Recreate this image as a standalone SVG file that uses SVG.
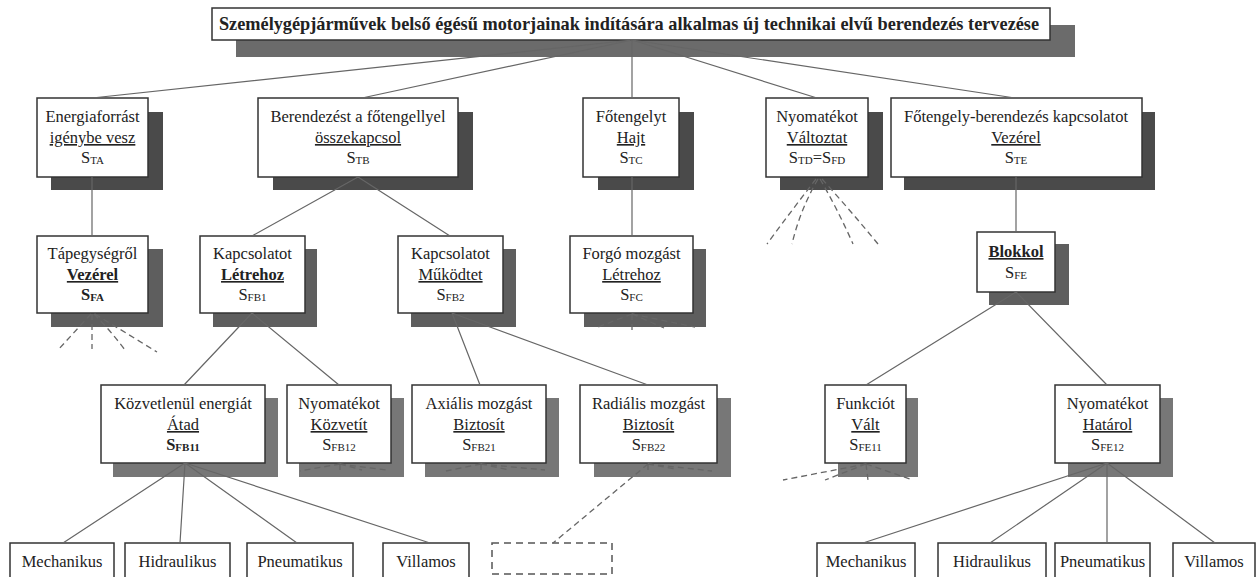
<svg xmlns="http://www.w3.org/2000/svg" width="1260" height="577" viewBox="0 0 1260 577" font-family="'Liberation Serif', 'DejaVu Serif', serif">
<style>
text{font-family:'Liberation Serif','DejaVu Serif',serif;font-size:16.5px;fill:#222;text-anchor:middle}
.t{font-weight:bold;font-size:18.3px}
.u{text-decoration:underline}
.b{font-weight:bold}
.sub{font-size:11px}
.box{fill:#fff;stroke:#333;stroke-width:1.5}
.s0{fill:#6b6b6b}
.s1{fill:#4a4a4a}
.s2{fill:#5e5e5e}
.s3{fill:#777}
.ln{stroke:#666;stroke-width:1.2;fill:none}
.dl{stroke:#666;stroke-width:1.3;fill:none;stroke-dasharray:6 4}
.dbox{fill:#fff;stroke:#555;stroke-width:1.5;stroke-dasharray:7 5}
</style>
<rect width="1260" height="577" fill="#fff"/>

<g id="title">
<rect class="s0" x="236" y="25" width="839" height="32"/>
<rect class="box" x="212" y="8" width="838" height="32"/>
<text class="t" x="629" y="30">Személygépjárművek belső égésű motorjainak indítására alkalmas új technikai elvű berendezés tervezése</text>
</g>

<g id="STA">
<rect class="s1" x="51" y="112" width="112" height="78"/>
<rect class="box" x="37" y="98" width="111" height="79"/>
<text x="92.5" y="122">Energiaforrást</text>
<text class="u" x="92.5" y="143">igénybe vesz</text>
<text x="92.5" y="163">S<tspan class="sub" dy="1">TA</tspan></text>
</g>
<g id="STB">
<rect class="s1" x="273" y="112" width="200" height="78"/>
<rect class="box" x="258" y="98" width="200" height="79"/>
<text x="358" y="122">Berendezést a főtengellyel</text>
<text class="u" x="358" y="143">összekapcsol</text>
<text x="358" y="163">S<tspan class="sub" dy="1">TB</tspan></text>
</g>
<g id="STC">
<rect class="s1" x="598" y="112" width="96" height="78"/>
<rect class="box" x="583" y="98" width="96" height="79"/>
<text x="631" y="122">Főtengelyt</text>
<text class="u" x="631" y="143">Hajt</text>
<text x="631" y="163">S<tspan class="sub" dy="1">TC</tspan></text>
</g>
<g id="STD">
<rect class="s1" x="780" y="112" width="103" height="78"/>
<rect class="box" x="766" y="98" width="102" height="79"/>
<text x="817" y="122">Nyomatékot</text>
<text class="u" x="817" y="143">Változtat</text>
<text x="817" y="163">S<tspan class="sub" dy="1">TD</tspan><tspan dy="-1">=S</tspan><tspan class="sub" dy="1">FD</tspan></text>
</g>
<g id="STE">
<rect class="s1" x="904" y="112" width="251" height="78"/>
<rect class="box" x="891" y="98" width="251" height="79"/>
<text x="1016" y="122">Főtengely-berendezés kapcsolatot</text>
<text class="u" x="1016" y="143">Vezérel</text>
<text x="1016" y="163">S<tspan class="sub" dy="1">TE</tspan></text>
</g>

<g id="SFA">
<rect class="s2" x="51" y="249" width="112" height="78"/>
<rect class="box" x="37" y="236" width="111" height="77"/>
<text x="92.5" y="259">Tápegységről</text>
<text class="u b" x="92.5" y="280">Vezérel</text>
<text class="b" x="92.5" y="300">S<tspan class="sub" dy="1">FA</tspan></text>
</g>
<g id="SFB1">
<rect class="s2" x="213" y="249" width="104" height="78"/>
<rect class="box" x="200" y="236" width="105" height="77"/>
<text x="252.5" y="259">Kapcsolatot</text>
<text class="u b" x="252.5" y="280">Létrehoz</text>
<text x="252.5" y="300">S<tspan class="sub" dy="1">FB1</tspan></text>
</g>
<g id="SFB2">
<rect class="s2" x="411" y="249" width="105" height="78"/>
<rect class="box" x="398" y="236" width="105" height="77"/>
<text x="450.5" y="259">Kapcsolatot</text>
<text class="u" x="450.5" y="280">Működtet</text>
<text x="450.5" y="300">S<tspan class="sub" dy="1">FB2</tspan></text>
</g>
<g id="SFC">
<rect class="s2" x="584" y="249" width="122" height="78"/>
<rect class="box" x="570" y="236" width="123" height="77"/>
<text x="631.5" y="259">Forgó mozgást</text>
<text class="u" x="631.5" y="280">Létrehoz</text>
<text x="631.5" y="300">S<tspan class="sub" dy="1">FC</tspan></text>
</g>
<g id="SFE">
<rect class="s2" x="989" y="244" width="80" height="61"/>
<rect class="box" x="977" y="232" width="78" height="60"/>
<text class="u b" x="1016" y="257">Blokkol</text>
<text x="1016" y="278">S<tspan class="sub" dy="1">FE</tspan></text>
</g>

<g id="SFB11">
<rect class="s3" x="113" y="398" width="165" height="79"/>
<rect class="box" x="101" y="385" width="164" height="78"/>
<text x="183" y="409">Közvetlenül energiát</text>
<text class="u" x="183" y="430">Átad</text>
<text class="b" x="183" y="450">S<tspan class="sub" dy="1">FB11</tspan></text>
</g>
<g id="SFB12">
<rect class="s3" x="299" y="398" width="105" height="79"/>
<rect class="box" x="287" y="385" width="104" height="78"/>
<text x="339" y="409">Nyomatékot</text>
<text class="u" x="339" y="430">Közvetít</text>
<text x="339" y="450">S<tspan class="sub" dy="1">FB12</tspan></text>
</g>
<g id="SFB21">
<rect class="s3" x="425" y="398" width="134" height="79"/>
<rect class="box" x="412" y="385" width="134" height="78"/>
<text x="479" y="409">Axiális mozgást</text>
<text class="u" x="479" y="430">Biztosít</text>
<text x="479" y="450">S<tspan class="sub" dy="1">FB21</tspan></text>
</g>
<g id="SFB22">
<rect class="s3" x="594" y="398" width="137" height="79"/>
<rect class="box" x="580" y="385" width="137" height="78"/>
<text x="648.5" y="409">Radiális mozgást</text>
<text class="u" x="648.5" y="430">Biztosít</text>
<text x="648.5" y="450">S<tspan class="sub" dy="1">FB22</tspan></text>
</g>
<g id="SFE11">
<rect class="s3" x="838" y="398" width="80" height="79"/>
<rect class="box" x="825" y="385" width="81" height="78"/>
<text x="865.5" y="409">Funkciót</text>
<text class="u" x="865.5" y="430">Vált</text>
<text x="865.5" y="450">S<tspan class="sub" dy="1">FE11</tspan></text>
</g>
<g id="SFE12">
<rect class="s3" x="1068" y="398" width="105" height="79"/>
<rect class="box" x="1055" y="385" width="105" height="78"/>
<text x="1107.5" y="409">Nyomatékot</text>
<text class="u" x="1107.5" y="430">Határol</text>
<text x="1107.5" y="450">S<tspan class="sub" dy="1">FE12</tspan></text>
</g>

<g id="L1"><rect class="box" x="10" y="543" width="104" height="40"/><text x="62" y="567">Mechanikus</text></g>
<g id="L2"><rect class="box" x="125" y="543" width="105" height="40"/><text x="177.5" y="567">Hidraulikus</text></g>
<g id="L3"><rect class="box" x="247" y="543" width="106" height="40"/><text x="300" y="567">Pneumatikus</text></g>
<g id="L4"><rect class="box" x="383" y="543" width="86" height="40"/><text x="426" y="567">Villamos</text></g>
<g id="L5"><rect class="dbox" x="492" y="543" width="120" height="31"/></g>
<g id="R1"><rect class="box" x="817" y="543" width="98" height="40"/><text x="866" y="567">Mechanikus</text></g>
<g id="R2"><rect class="box" x="938" y="543" width="108" height="40"/><text x="992" y="567">Hidraulikus</text></g>
<g id="R3"><rect class="box" x="1055" y="543" width="95" height="40"/><text x="1102.5" y="567">Pneumatikus</text></g>
<g id="R4"><rect class="box" x="1173" y="543" width="82" height="40"/><text x="1214" y="567">Villamos</text></g>

<g id="connectors">
<path class="ln" d="M632 40L92 98M632 40L362 98M632 40L632 98M632 40L817 98M632 40L1015 98"/>
<path class="ln" d="M92 177L92 236M358 177L252 236M358 177L450 236M632 177L632 236M1016 177L1016 232"/>
<path class="ln" d="M252 313L184 385M252 313L339 385M452 313L480 385M452 313L648 385M1016 292L866 385M1016 292L1107 385"/>
<path class="ln" d="M185 463L63 543M185 463L180 543M185 463L297 543M185 463L430 543"/>
<path class="ln" d="M1107 463L863 543M1107 463L990 543M1107 463L1107 543M1107 463L1215 543"/>
<path class="dl" d="M816 179Q792 210 767 244M818 179Q800 210 792 244M820 179Q838 210 853 244M822 179Q850 210 878 244"/>
<path class="dl" d="M91 314L58 350M92 314L92 349M94 314Q110 330 125 350M95 314L157 352"/>
<path class="dl" d="M632 314L598 327M632 314L632 330M632 314L664 328M632 314L695 327"/>
<path class="dl" d="M340 464L300 471M340 464L340 472M340 464L362 470M340 464L386 470"/>
<path class="dl" d="M481 464L446 471M481 464L481 473M481 464L510 470M481 464L545 470"/>
<path class="dl" d="M648 464L553 543M648 464L648 473M648 464L675 469M648 464L712 471"/>
<path class="dl" d="M866 464L783 480M866 464L825 480M866 464L868 480M866 464L913 480"/>
</g>
</svg>
